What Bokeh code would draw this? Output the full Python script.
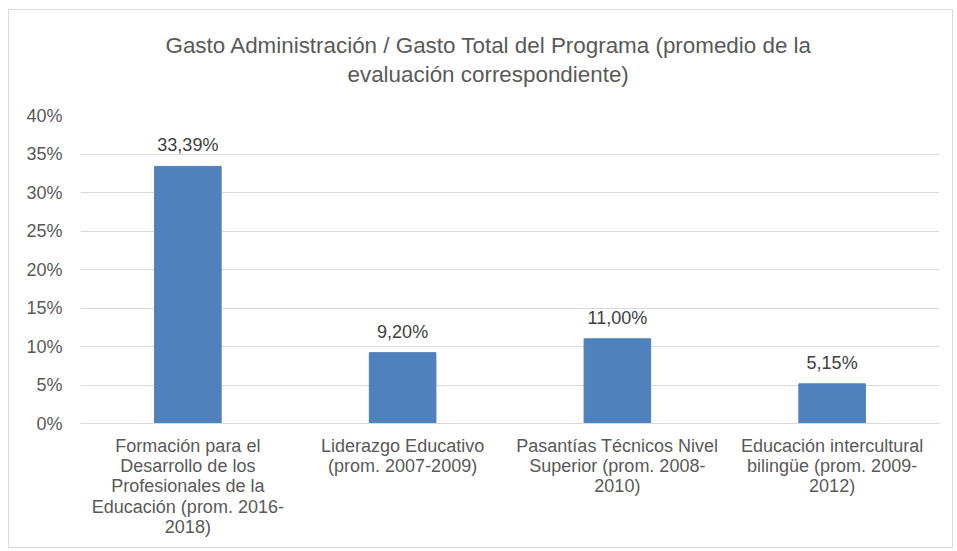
from bokeh.plotting import figure
from bokeh.models import (ColumnDataSource, FactorRange, Range1d, FixedTicker,
                          NumeralTickFormatter, LabelSet, Title)
from bokeh.core.properties import value
from bokeh.embed import file_html
from bokeh.resources import INLINE

categories = [
    "Formación para el\nDesarrollo de los\nProfesionales de la\nEducación (prom. 2016-\n2018)",
    "Liderazgo Educativo\n(prom. 2007-2009)",
    "Pasantías Técnicos Nivel\nSuperior (prom. 2008-\n2010)",
    "Educación intercultural\nbilingüe (prom. 2009-\n2012)",
]
values_pct = [33.39, 9.20, 11.00, 5.15]
y_ticks = [0, 0.05, 0.10, 0.15, 0.20, 0.25, 0.30, 0.35, 0.40]
title_line1 = "Gasto Administración / Gasto Total del Programa (promedio de la"
title_line2 = "evaluación correspondiente)"

FONT = "Liberation Sans"

source = ColumnDataSource(dict(
    cat=categories,
    val=[v / 100 for v in values_pct],
    lbl=[f"{v:.2f}".replace(".", ",") + "%" for v in values_pct],
))

p = figure(
    x_range=FactorRange(factors=categories, range_padding=0),
    y_range=Range1d(0, 0.40),
    width=945, height=539,
    output_backend="svg", toolbar_location=None,
    min_border_left=71, min_border_right=15, min_border_top=105, min_border_bottom=126,
)
p.styles = {"border": "1px solid #d9d9d9"}
p.margin = (9, 0, 0, 8)
p.outline_line_color = None

common = dict(align="left", standoff=2, text_font=FONT, text_font_size="22.4px",
              text_font_style="normal", text_color="#595959")

# blank spacer closest to the plot area
spacer = Title(text=" ", align="left", standoff=15, text_font=FONT,
               text_font_size="10px")
p.add_layout(spacer, "above")
# second title line
t2 = Title(text=title_line2, offset=267, **common)
p.add_layout(t2, "above")
# first title line (outermost)
p.title.text = title_line1
p.title.align = "left"
p.title.offset = 85
p.title.standoff = 2
p.title.text_font = FONT
p.title.text_font_size = "22.4px"
p.title.text_font_style = "normal"
p.title.text_color = "#595959"

p.vbar(x="cat", top="val", width=0.31, source=source,
       fill_color="#4F81BD", line_color="#4F81BD")

labels = LabelSet(x="cat", y="val", text="lbl", source=source,
                  text_align="center", text_baseline="alphabetic",
                  y_offset=15, text_font=value(FONT), text_font_size="18px",
                  text_color="#404040")
p.add_layout(labels)

p.yaxis.ticker = FixedTicker(ticks=y_ticks)
p.yaxis.formatter = NumeralTickFormatter(format="0%")
p.yaxis.axis_line_color = None
p.yaxis.major_tick_line_color = None
p.yaxis.minor_tick_line_color = None
p.yaxis.major_tick_out = 0
p.yaxis.major_label_standoff = 18
p.yaxis.major_label_text_font = FONT
p.yaxis.major_label_text_font_size = "18px"
p.yaxis.major_label_text_color = "#595959"

p.xaxis.axis_line_color = "#d9d9d9"
p.xaxis.major_tick_line_color = None
p.xaxis.major_tick_out = 0
p.xaxis.major_label_standoff = 12
p.xaxis.major_label_text_font = FONT
p.xaxis.major_label_text_font_size = "18px"
p.xaxis.major_label_text_color = "#595959"
p.xaxis.major_label_text_line_height = 1.02

p.xgrid.grid_line_color = None
p.ygrid.grid_line_color = "#d9d9d9"
p.ygrid.grid_line_width = 1

open("out.html", "w").write(file_html(p, INLINE))
